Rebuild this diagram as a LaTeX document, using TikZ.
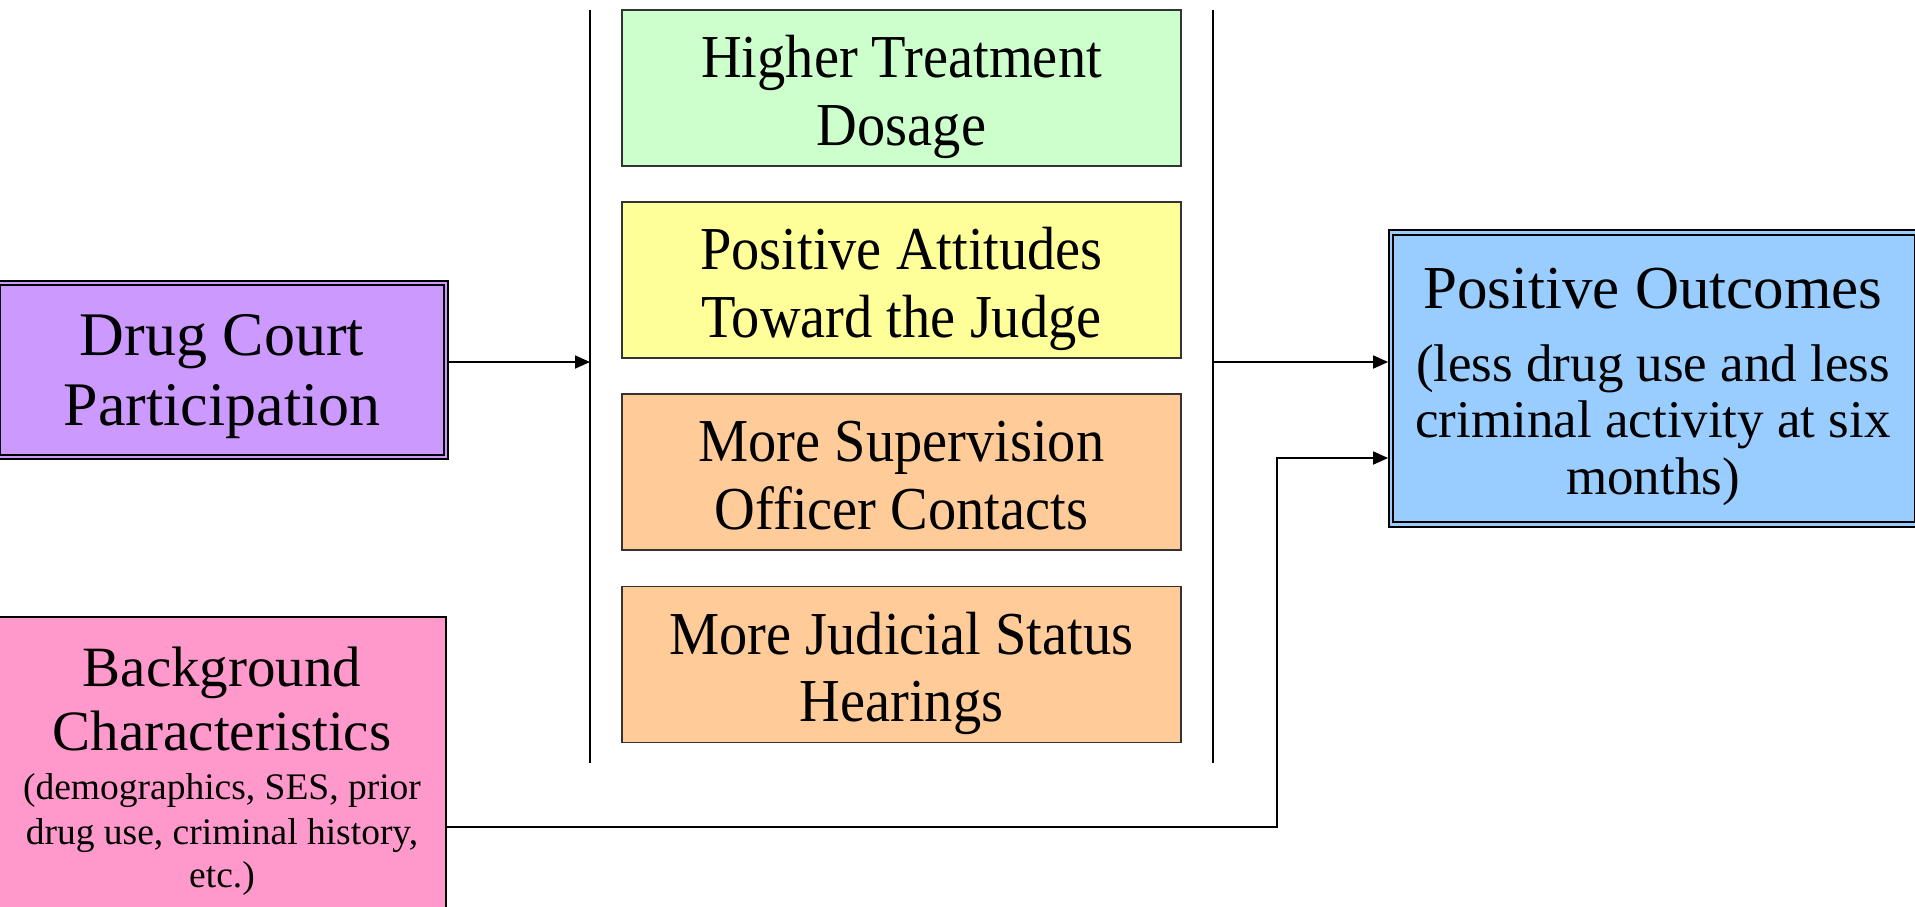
\documentclass[tikz,border=0pt]{standalone}
\usepackage{fontspec}
\setmainfont{Liberation Serif}
\newfontfamily\condfont[FakeStretch=0.925]{Liberation Serif}
\usetikzlibrary{arrows.meta}
\definecolor{cpurple}{HTML}{CC99FF}
\definecolor{cpink}{HTML}{FF99CC}
\definecolor{cgreen}{HTML}{CCFFCC}
\definecolor{cyellow}{HTML}{FFFF99}
\definecolor{corange}{HTML}{FFCC99}
\definecolor{cblue}{HTML}{99CCFF}
\tikzset{
  dblbox/.style={draw=black, line width=1.8pt, double distance=2.6pt, inner sep=0pt},
  midbox/.style={draw=black!80, line width=1.8pt, inner sep=0pt,
    minimum width=559pt, minimum height=156pt},
  sglbox/.style={draw=black, line width=1.8pt, inner sep=0pt},
  bar/.style={draw=black, line width=1.8pt},
  conn/.style={draw=black, line width=1.8pt, -{Triangle[length=15pt,width=13pt]}},
  txt/.style={anchor=base, inner sep=0pt},
  bigtxt/.style={txt, font=\fontsize{62}{62}\selectfont},
  midtxt/.style={txt, font=\condfont\fontsize{61}{61}\selectfont},
  subtxt/.style={txt, font=\fontsize{53}{53}\selectfont},
  bgtxt/.style={txt, font=\fontsize{57}{57}\selectfont},
  bgsub/.style={txt, font=\fontsize{37.5}{37.5}\selectfont}
}
\begin{document}
\begin{tikzpicture}[x=1pt,y=-1pt]
\useasboundingbox (0,0) rectangle (1915,906);
\clip (0,0) rectangle (1915,906);
% left boxes
\node[dblbox, fill=cpurple, double=cpurple, minimum width=448pt, minimum height=174pt] (dc) at (222,370) {};
\node[bigtxt] (dc1) at (222,355) {Drug Court};
\node[bigtxt] (dc2) at (222,425) {Participation};
\node[sglbox, fill=cpink, minimum width=456pt, minimum height=310pt] (bg) at (218,772) {};
\node[bgtxt] (bg1) at (222,686) {Background};
\node[bgtxt] (bg2) at (222,750) {Characteristics};
\node[bgsub] (bg3) at (222,799) {(demographics, SES, prior};
\node[bgsub] (bg4) at (222,844) {drug use, criminal history,};
\node[bgsub] (bg5) at (222,887) {etc.)};
% middle boxes
\node[midbox, fill=cgreen] (m1) at (901.5,88) {};
\node[midbox, fill=cyellow] (m2) at (901.5,280) {};
\node[midbox, fill=corange] (m3) at (901.5,472) {};
\node[midbox, fill=corange] (m4) at (901.5,664.5) {};
\node[midtxt] (m1a) at (901.5,77.5) {Higher Treatment};
\node[midtxt] (m1b) at (901.5,145) {Dosage};
\node[midtxt] (m2a) at (901.5,269.5) {Positive Attitudes};
\node[midtxt] (m2b) at (901.5,337) {Toward the Judge};
\node[midtxt] (m3a) at (901.5,461.5) {More Supervision};
\node[midtxt] (m3b) at (901.5,529) {Officer Contacts};
\node[midtxt] (m4a) at (901.5,654) {More Judicial Status};
\node[midtxt] (m4b) at (901.5,721.5) {Hearings};
% bars
\coordinate (lbT) at (590,10);
\coordinate (lbB) at (590,763);
\coordinate (rbT) at (1213,10);
\coordinate (rbB) at (1213,763);
\draw[bar] (lbT) -- (lbB);
\draw[bar] (rbT) -- (rbB);
% outcome box
\node[dblbox, fill=cblue, double=cblue, minimum width=526pt, minimum height=292pt] (out) at (1654,378.5) {};
\node[bigtxt, font=\fontsize{61}{61}\selectfont] (o1) at (1653,308) {Positive Outcomes};
\node[subtxt] (o2) at (1653,381) {(less drug use and less};
\node[subtxt] (o3) at (1653,437) {criminal activity at six};
\node[subtxt] (o4) at (1653,494) {months)};
% connectors
\coordinate (lbA) at (590,362);
\coordinate (rbA) at (1213,362);
\coordinate (bgJ) at (1277,827);
\coordinate (bgK) at (1277,458);
\draw[conn] (dc.east |- lbA) -- (lbA);
\draw[conn, shorten >=2pt] (rbA) -- (out.west |- rbA);
\draw[conn, shorten >=2pt] (bg.east |- bgJ) -- (bgJ) -- (bgK) -- (out.west |- bgK);
\end{tikzpicture}
\end{document}
